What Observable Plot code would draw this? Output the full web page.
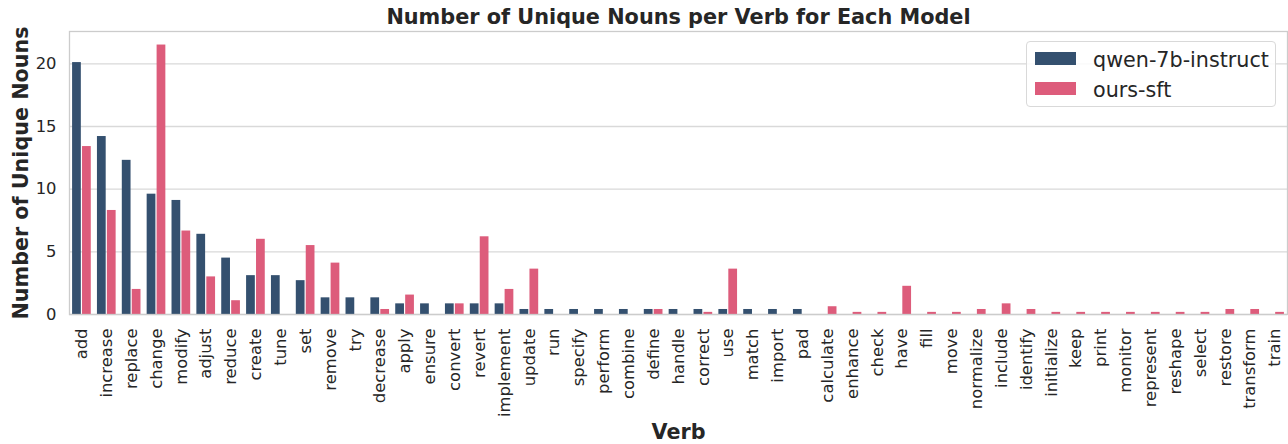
<!DOCTYPE html>
<html>
<head>
<meta charset="utf-8">
<script src="https://cdn.jsdelivr.net/npm/d3@7"></script>
<script src="https://cdn.jsdelivr.net/npm/@observablehq/plot@0.6"></script>
<style>
  html, body { margin: 0; padding: 0; background: #fff; }
  #wrap { position: relative; width: 1288px; height: 444px; font-family: "DejaVu Sans", sans-serif; color: #262626; }
  #legend { position: absolute; left: 1026px; top: 41px; width: 250px; height: 66px; box-sizing: border-box;
    border: 1px solid #d9d9d9; border-radius: 4px; background: rgba(255,255,255,0.85); }
  .item { position: absolute; left: 0; height: 20px; }
  .sw { position: absolute; left: 8px; width: 41px; height: 13px; }
  .lab { position: absolute; left: 66px; font-size: 20.7px; line-height: 20px; white-space: nowrap; }
</style>
</head>
<body>
<div id="wrap"><div id="chart"></div><div id="legend"></div></div>
<script>
const verbs = ["add","increase","replace","change","modify","adjust","reduce","create","tune","set","remove","try","decrease","apply","ensure","convert","revert","implement","update","run","specify","perform","combine","define","handle","correct","use","match","import","pad","calculate","enhance","check","have","fill","move","normalize","include","identify","initialize","keep","print","monitor","represent","reshape","select","restore","transform","train"];
const qwenValues = [20.1,14.2,12.3,9.6,9.1,6.4,4.5,3.1,3.1,2.7,1.33,1.33,1.33,0.85,0.85,0.85,0.85,0.85,0.4,0.4,0.4,0.4,0.4,0.4,0.4,0.4,0.4,0.4,0.4,0.4,0,0,0,0,0,0,0,0,0,0,0,0,0,0,0,0,0,0,0];
const oursValues = [13.4,8.3,2.0,21.5,6.66,3.0,1.1,6.0,0,5.5,4.1,0,0.4,1.55,0,0.85,6.2,2.0,3.62,0,0,0,0,0.4,0,0.17,3.62,0,0,0,0.62,0.17,0.17,2.25,0.17,0.17,0.4,0.85,0.4,0.17,0.17,0.17,0.17,0.17,0.17,0.17,0.4,0.4,0.17];
const models = ["qwen-7b-instruct", "ours-sft"];
const colors = ["#34506f", "#dd5c7b"];
const yTicks = [0, 5, 10, 15, 20];
const title = "Number of Unique Nouns per Verb for Each Model";
const xLabel = "Verb";
const yLabel = "Number of Unique Nouns";

const qwenData = verbs.map((v, i) => ({verb: v, value: qwenValues[i]}));
const oursData = verbs.map((v, i) => ({verb: v, value: oursValues[i]}));

const W = 1288, H = 444, mL = 69, mR = 1, mT = 31, mB = 130;
const step = (W - mL - mR) / verbs.length;
const half = 0.8 * step / 2;

const chart = Plot.plot({
  width: W, height: H,
  marginLeft: mL, marginRight: mR, marginTop: mT, marginBottom: mB,
  style: {fontFamily: "DejaVu Sans", fontSize: "16.4px", color: "#262626", background: "white", overflow: "visible"},
  x: {type: "band", domain: verbs, paddingInner: 0.2, paddingOuter: 0.1, label: null},
  y: {domain: [0, 22.58], label: null},
  marks: [
    Plot.gridY(yTicks, {stroke: "#d9d9d9", strokeOpacity: 1, strokeWidth: 1.3}),
    Plot.barY(qwenData, {x: "verb", y: "value", fill: colors[0], insetRight: half + 0.6, insetLeft: 0.6}),
    Plot.barY(oursData, {x: "verb", y: "value", fill: colors[1], insetLeft: half + 0.6, insetRight: 0.6}),
    Plot.frame({stroke: "#cccccc", strokeWidth: 1.3}),
    Plot.axisY({ticks: yTicks, tickSize: 0, tickPadding: 13, label: null, fontSize: 16.4}),
    Plot.axisX({tickRotate: -90, tickSize: 0, tickPadding: 14, label: null, fontSize: 16.4}),
    Plot.text([title], {text: d => d, frameAnchor: "top", dy: -8, lineAnchor: "bottom", fontSize: 20.8, fontWeight: "bold", fill: "#262626"}),
    Plot.text([xLabel], {text: d => d, frameAnchor: "bottom", dy: 124.5, lineAnchor: "bottom", fontSize: 20.7, fontWeight: "bold", fill: "#262626"}),
    Plot.text([yLabel], {text: d => d, frameAnchor: "left", dx: -42, rotate: -90, textAnchor: "middle", lineAnchor: "bottom", fontSize: 20.7, fontWeight: "bold", fill: "#262626"})
  ]
});
document.getElementById("chart").appendChild(chart);

const legend = document.getElementById("legend");
models.forEach((m, i) => {
  const item = document.createElement("div");
  item.className = "item";
  item.style.top = (i === 0 ? 9 : 39) + "px";
  const sw = document.createElement("div");
  sw.className = "sw";
  sw.style.background = colors[i];
  sw.style.top = "1px";
  const lab = document.createElement("div");
  lab.className = "lab";
  lab.textContent = m;
  lab.style.top = "-1px";
  item.appendChild(sw);
  item.appendChild(lab);
  legend.appendChild(item);
});
</script>
</body>
</html>
